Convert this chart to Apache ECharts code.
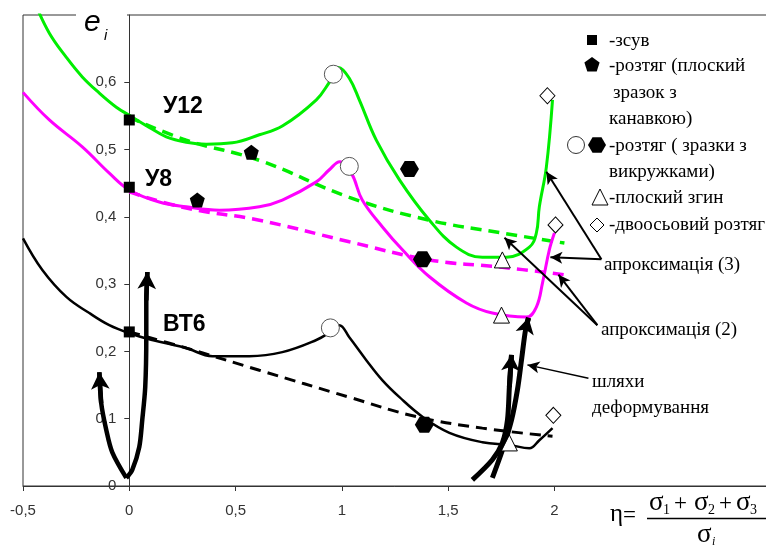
<!DOCTYPE html>
<html><head><meta charset="utf-8">
<script src="https://cdn.jsdelivr.net/npm/echarts@6/dist/echarts.min.js"></script>
<style>html,body{margin:0;padding:0;background:#fff}#c{width:766px;height:550px}</style>
</head><body><div id="c"></div>
<script>
// ---- tick labels ----
const xTicks = [-0.5, 0, 0.5, 1, 1.5, 2];
const yTicks = [0, 0.1, 0.2, 0.3, 0.4, 0.5, 0.6];

// ---- experimental curves (eta, e_i) ----
const greenSolid = [[-0.44,0.715],[-0.376,0.673],[-0.296,0.637],[-0.221,0.608],[-0.141,0.584],[-0.061,0.563],[0,0.551],[0.094,0.533],[0.174,0.519],[0.268,0.511],[0.362,0.508],[0.485,0.510],[0.612,0.522],[0.72,0.535],[0.88,0.574],[0.941,0.600],[0.985,0.622],[1.035,0.606],[1.082,0.574],[1.162,0.514],[1.271,0.455],[1.412,0.395],[1.539,0.355],[1.661,0.340],[1.774,0.340],[1.882,0.355],[1.915,0.376],[1.929,0.415],[1.962,0.474],[1.991,0.574]];
const magentaSolid = [[-0.5,0.585],[-0.376,0.544],[-0.221,0.504],[-0.094,0.465],[0,0.44],[0.141,0.422],[0.268,0.415],[0.424,0.410],[0.612,0.415],[0.72,0.425],[0.88,0.452],[0.941,0.47],[0.99,0.482],[1.045,0.465],[1.096,0.425],[1.191,0.385],[1.285,0.351],[1.412,0.311],[1.586,0.272],[1.708,0.257],[1.868,0.251],[1.915,0.266],[1.944,0.302],[1.976,0.351],[2.0,0.376]];
const blackSolid = [[-0.5,0.368],[-0.409,0.321],[-0.296,0.281],[-0.188,0.257],[-0.094,0.239],[0,0.227],[0.108,0.217],[0.268,0.205],[0.391,0.193],[0.565,0.193],[0.72,0.199],[0.88,0.217],[0.941,0.228],[0.988,0.239],[1.035,0.221],[1.115,0.187],[1.191,0.157],[1.271,0.132],[1.379,0.103],[1.506,0.079],[1.661,0.065],[1.788,0.061],[1.882,0.056],[1.929,0.068],[1.991,0.086]];

// ---- approximation (2), dashed ----
const greenDash = [[0,0.548],[0.268,0.514],[0.612,0.484],[1.035,0.429],[1.412,0.395],[1.755,0.376],[2.047,0.361]];
const magentaDash = [[0,0.437],[0.268,0.413],[0.612,0.395],[1.035,0.363],[1.412,0.336],[1.755,0.325],[2.047,0.314]];
const blackDash = [[0,0.229],[0.268,0.205],[0.612,0.172],[1.035,0.132],[1.351,0.103],[1.661,0.086],[1.991,0.074]];

// ---- test points ----
const shearPts = [[0,0.544],[0,0.444],[0,0.229]];
const flatTensionPts = [[0.574,0.496],[0.32,0.425]];
const notchedOpenPts = [[0.96,0.612],[1.035,0.475],[0.946,0.235]];
const notchedFilledPts = [[1.318,0.471],[1.379,0.337],[1.388,0.091]];
const bendingPts = [[1.755,0.336],[1.751,0.254],[1.788,0.064]];
const biaxialPts = [[1.967,0.58],[2.005,0.388],[1.995,0.105]];

// ---- deformation paths ----
const pathLeft1 = [[-0.014,0.012],[-0.08,0.05],[-0.108,0.083],[-0.132,0.123],[-0.141,0.169]];
const pathLeft2 = [[-0.014,0.012],[0.014,0.024],[0.047,0.058],[0.061,0.098],[0.075,0.147],[0.08,0.221],[0.08,0.276],[0.085,0.318]];
const pathRight1 = [[1.614,0.009],[1.708,0.039],[1.755,0.064],[1.779,0.098],[1.788,0.147],[1.798,0.195]];
const pathRight2 = [[1.708,0.012],[1.755,0.053],[1.798,0.098],[1.826,0.143],[1.845,0.187],[1.864,0.232],[1.878,0.25]];

// ---- annotation pointers: [from, to] ----
const approx3Arrows = [[[2.221,0.337],[1.962,0.467]],[[2.221,0.337],[1.981,0.340]]];
const approx2Arrows = [[[2.202,0.239],[1.765,0.369]],[[2.202,0.239],[2.019,0.314]]];
const pathArrows = [[[2.16,0.160],[1.873,0.180]]];

const X_MIN = -0.5, X_MAX = 3, GRID_LEFT = 23, GRID_RIGHT = -1, W = 766;
const GREEN = '#00ee00', MAGENTA = '#ff00ff';
const PENT = 'path://M50,0 L100,38 L81,100 L19,100 L0,38 Z';
const HEX = 'path://M25,0 L75,0 L100,50 L75,100 L25,100 L0,50 Z';
const fmt = v => String(v).replace('.', ',');
// y axis sits at eta = 0: shift it inward from the grid's left edge
const yAxisShift = -(0 - X_MIN) / (X_MAX - X_MIN) * (W - GRID_LEFT - GRID_RIGHT);

function curve(data, color, width, dashed) {
  return {type:'line', data, smooth:0.4, symbol:'none', z:3,
    lineStyle:{color, width, type: dashed ? [11,7] : 'solid'}, silent:true};
}
function pathSeries(data, width, head) {
  const n = data.length;
  return {type:'line', data, smooth:0.3, symbol:'none', z:6, silent:true,
    lineStyle:{color:'#000', width},
    markLine:{silent:true, symbol:['none','arrow'], symbolSize:head, animation:false,
      label:{show:false}, lineStyle:{color:'#000', width, type:'solid'},
      data:[[{coord:data[n-2]},{coord:data[n-1]}]]}};
}
function pointers(list, width) {
  return {type:'line', data:[], z:7, silent:true,
    markLine:{silent:true, symbol:['none','arrow'], symbolSize:[9,12], animation:false,
      label:{show:false}, lineStyle:{color:'#000', width, type:'solid'},
      data:list.map(a => [{coord:a[0]},{coord:a[1]}])}};
}
function scatter(data, symbol, size, fill, stroke) {
  return {type:'scatter', data, symbol, symbolSize:size, z:8, silent:true,
    itemStyle:{color:fill, borderColor:stroke, borderWidth: stroke ? 1 : 0, opacity:1}};
}
function poly(cx, cy, r, n, rot) {
  const p = [];
  for (let i = 0; i < n; i++) { const a = rot + i * 2 * Math.PI / n; p.push([cx + r * Math.cos(a), cy + r * Math.sin(a)]); }
  return p;
}

const SERIF = '"Liberation Serif", "Times New Roman", serif';
const LFONT = '19px ' + SERIF;
function txt(text, x, y, font, extra) {
  return Object.assign({type:'text', z:120, style:{text, x, y, font: font || LFONT, fill:'#000', verticalAlign:'middle'}}, extra || {});
}

const chart = echarts.init(document.getElementById('c'));
chart.setOption({
  animation:false,
  grid:{left:GRID_LEFT, top:15, right:GRID_RIGHT, bottom:64, containLabel:false, outerBoundsMode:'none',
    show:true, borderColor:'#333', borderWidth:1, backgroundColor:'transparent'},
  xAxis:{type:'value', min:X_MIN, max:X_MAX,
    axisLine:{lineStyle:{color:'#333', width:1}},
    axisTick:{customValues:xTicks, length:5, lineStyle:{color:'#333'}},
    axisLabel:{customValues:xTicks, formatter:fmt, margin:17, fontSize:15, color:'#333', fontFamily:'"Liberation Sans", Arial'},
    splitLine:{show:false}},
  yAxis:{type:'value', min:0, max:0.7, offset:yAxisShift,
    axisLine:{onZero:false, lineStyle:{color:'#333', width:1}},
    axisTick:{customValues:yTicks, length:5, lineStyle:{color:'#333'}},
    axisLabel:{customValues:yTicks, formatter:fmt, margin:13, fontSize:15, color:'#333', fontFamily:'"Liberation Sans", Arial'},
    splitLine:{show:false}},
  series:[
    curve(greenDash, GREEN, 3.5, true),
    curve(magentaDash, MAGENTA, 3.5, true),
    curve(blackDash, '#000', 3, true),
    curve(greenSolid, GREEN, 3, false),
    curve(magentaSolid, MAGENTA, 3, false),
    curve(blackSolid, '#000', 2.5, false),
    pathSeries(pathLeft1, 4.5, [14,17]),
    pathSeries(pathLeft2, 4.5, [14,17]),
    pathSeries(pathRight1, 5, [14,16]),
    pathSeries(pathRight2, 5, [14,16]),
    pointers(approx3Arrows, 2),
    pointers(approx2Arrows, 2),
    pointers(pathArrows, 1.5),
    scatter(shearPts, 'rect', 11, '#000'),
    scatter(flatTensionPts, PENT, 15, '#000'),
    scatter(notchedOpenPts, 'circle', 18, '#fff', '#555'),
    scatter(notchedFilledPts, HEX, [19,16], '#000'),
    scatter(bendingPts, 'triangle', 16, '#fff', '#000'),
    scatter(biaxialPts, 'diamond', [15,16], '#fff', '#000')
  ],
  graphic:[
    {type:'rect', z:110, shape:{x:76, y:8, width:51, height:14}, style:{fill:'#fff'}},
    txt('e', 84, 23, 'italic 30px "Liberation Sans", Arial'),
    txt('i', 104, 36, 'italic 15px "Liberation Sans", Arial'),
    txt('У12', 163, 107, 'bold 23px "Liberation Sans", Arial'),
    txt('У8', 145, 180, 'bold 23px "Liberation Sans", Arial'),
    txt('ВТ6', 163, 325, 'bold 23px "Liberation Sans", Arial'),
    // legend icons
    {type:'rect', z:120, shape:{x:587, y:35, width:10, height:10}, style:{fill:'#000'}},
    {type:'polygon', z:120, shape:{points:poly(592,65,8,5,-Math.PI/2)}, style:{fill:'#000'}},
    {type:'circle', z:120, shape:{cx:576, cy:145, r:8.5}, style:{fill:'#fff', stroke:'#333', lineWidth:1}},
    {type:'polygon', z:120, shape:{points:poly(597,145,9,6,0)}, style:{fill:'#000'}},
    {type:'polygon', z:120, shape:{points:[[600,189],[608,205],[592,205]]}, style:{fill:'#fff', stroke:'#000', lineWidth:1}},
    {type:'polygon', z:120, shape:{points:[[597,218],[604,225],[597,232],[590,225]]}, style:{fill:'#fff', stroke:'#000', lineWidth:1}},
    // legend texts
    txt('-зсув', 609, 41),
    txt('-розтяг (плоский', 609, 66),
    txt('зразок з', 613, 93),
    txt('канавкою)', 609, 119),
    txt('-розтяг ( зразки з', 609, 146),
    txt('викружками)', 609, 172),
    txt('-плоский згин', 609, 198),
    txt('-двоосьовий розтяг', 609, 225),
    txt('апроксимація (3)', 604, 265),
    txt('апроксимація (2)', 601, 330),
    txt('шляхи', 592, 382),
    txt('деформування', 592, 408),
    // x-axis formula
    txt('η', 610, 514, '25px ' + SERIF),
    txt('=', 623, 516, '23px ' + SERIF),
    {type:'line', z:120, shape:{x1:647, y1:518.5, x2:766, y2:518.5}, style:{stroke:'#000', lineWidth:1.5}},
    txt('σ', 649, 503, '27px ' + SERIF),
    txt('1', 663, 510, '14px ' + SERIF),
    txt('+', 674, 504, '23px ' + SERIF),
    txt('σ', 694, 503, '27px ' + SERIF),
    txt('2', 708, 510, '14px ' + SERIF),
    txt('+', 719, 504, '23px ' + SERIF),
    txt('σ', 736, 503, '27px ' + SERIF),
    txt('3', 750, 510, '14px ' + SERIF),
    txt('σ', 697, 535, '27px ' + SERIF),
    txt('i', 712, 542, 'italic 12px ' + SERIF)
  ]
});
</script>
</body></html>
